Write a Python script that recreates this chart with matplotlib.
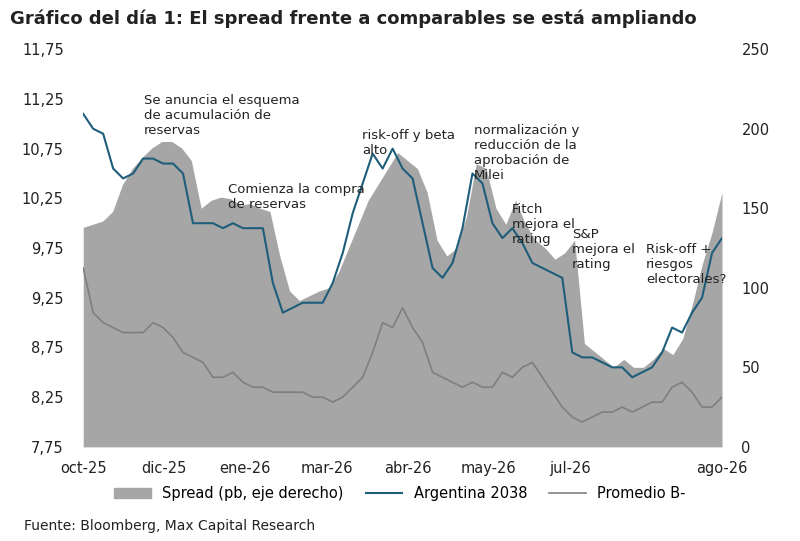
import numpy as np
import matplotlib.pyplot as plt
from matplotlib.patches import Patch
from matplotlib.lines import Line2D

# Series (roughly every 10 px along the x axis)
SPREAD = [138, 140, 142, 148, 165, 175, 182, 188, 192, 192, 188, 180, 150, 155, 157, 156,
          152, 153, 150, 148, 120, 98, 92, 95, 98, 100, 110, 125, 140, 155, 165, 175,
          185, 180, 175, 160, 130, 120, 125, 145, 178, 175, 150, 140, 155, 140, 130, 125,
          118, 122, 130, 65, 60, 55, 50, 55, 50, 50, 55, 62, 58, 68, 90, 115, 135, 160]
ARG_2038 = [11.1, 10.95, 10.9, 10.55, 10.45, 10.5, 10.65, 10.65, 10.6, 10.6, 10.5, 10.0,
            10.0, 10.0, 9.95, 10.0, 9.95, 9.95, 9.95, 9.4, 9.1, 9.15, 9.2, 9.2, 9.2, 9.4,
            9.7, 10.1, 10.4, 10.7, 10.55, 10.75, 10.55, 10.45, 10.0, 9.55, 9.45, 9.6, 9.95,
            10.5, 10.4, 10.0, 9.85, 9.95, 9.8, 9.6, 9.55, 9.5, 9.45, 8.7, 8.65, 8.65, 8.6,
            8.55, 8.55, 8.45, 8.5, 8.55, 8.7, 8.95, 8.9, 9.1, 9.25, 9.7, 9.85]
PROM_B = [9.55, 9.1, 9.0, 8.95, 8.9, 8.9, 8.9, 9.0, 8.95, 8.85, 8.7, 8.65, 8.6, 8.45, 8.45,
          8.5, 8.4, 8.35, 8.35, 8.3, 8.3, 8.3, 8.3, 8.25, 8.25, 8.2, 8.25, 8.35, 8.45, 8.7,
          9.0, 8.95, 9.15, 8.95, 8.8, 8.5, 8.45, 8.4, 8.35, 8.4, 8.35, 8.35, 8.5, 8.45, 8.55,
          8.6, 8.45, 8.3, 8.15, 8.05, 8.0, 8.05, 8.1, 8.1, 8.15, 8.1, 8.15, 8.2, 8.2, 8.35,
          8.4, 8.3, 8.15, 8.15, 8.25]
MONTHS = ['oct-25', 'dic-25', 'ene-26', 'mar-26', 'abr-26', 'may-26', 'jul-26', 'ago-26']
MONTH_POS = [0, 8, 16, 24, 32, 40, 48, 63]
LEFT_TICKS = [7.75, 8.25, 8.75, 9.25, 9.75, 10.25, 10.75, 11.25, 11.75]
RIGHT_TICKS = [0, 50, 100, 150, 200, 250]
NOTES = [(6, 11.3, 'Se anuncia el esquema\nde acumulación de\nreservas'),
         (14.3, 10.4, 'Comienza la compra\nde reservas'),
         (27.5, 10.95, 'risk-off y beta\nalto'),
         (38.5, 11.0, 'normalización y\nreducción de la\naprobación de\nMilei'),
         (42.3, 10.2, 'Fitch\nmejora el\nrating'),
         (48.2, 9.95, 'S&P\nmejora el\nrating'),
         (55.5, 9.8, 'Risk-off +\nriesgos\nelectorales?')]

fig, ax = plt.subplots(figsize=(8, 5.41), dpi=100)
fig.subplots_adjust(left=0.104, right=0.9025, top=0.909, bottom=0.174)
ax2 = ax.twinx()
ax.set_zorder(ax2.get_zorder() + 1)
ax.patch.set_visible(False)

x_s = np.linspace(0, 63, len(SPREAD))
ax2.fill_between(x_s, SPREAD, color='#a6a6a6', lw=0)
ax.plot(np.linspace(0, 63, len(ARG_2038)), ARG_2038, color='#1f5e7a', lw=1.5)
ax.plot(np.linspace(0, 63, len(PROM_B)), PROM_B, color='#7f7f7f', lw=1.2)

ax.set_ylim(7.75, 11.75)
ax2.set_ylim(0, 250)
ax.set_xlim(0, 63)
ax.set_yticks(LEFT_TICKS)
ax.set_yticklabels([f'{v:.2f}'.replace('.', ',') for v in LEFT_TICKS])
ax2.set_yticks(RIGHT_TICKS)
ax.set_xticks(MONTH_POS)
ax.set_xticklabels(MONTHS)
for a in (ax, ax2):
    for s in a.spines.values():
        s.set_visible(False)
    a.tick_params(length=0, labelsize=10.5, colors='#222222', pad=14)
ax.tick_params(axis='x', pad=10)

for x, y, txt in NOTES:
    ax.text(x, y, txt, fontsize=9.5, va='top', ha='left', color='#222222')

handles = [Patch(color='#a6a6a6', label='Spread (pb, eje derecho)'),
           Line2D([], [], color='#1f5e7a', lw=1.5, label='Argentina 2038'),
           Line2D([], [], color='#7f7f7f', lw=1.2, label='Promedio B-')]
fig.legend(handles=handles, loc='lower center', bbox_to_anchor=(0.5, 0.05), ncol=3,
           frameon=False, fontsize=10.5, handlelength=2.5, columnspacing=1.5)

fig.text(0.012, 0.955, 'Gráfico del día 1: El spread frente a comparables se está ampliando',
         fontsize=13, fontweight='bold', color='#222222')
fig.text(0.03, 0.02, 'Fuente: Bloomberg, Max Capital Research', fontsize=10, color='#222222')

fig.savefig('out.png')
